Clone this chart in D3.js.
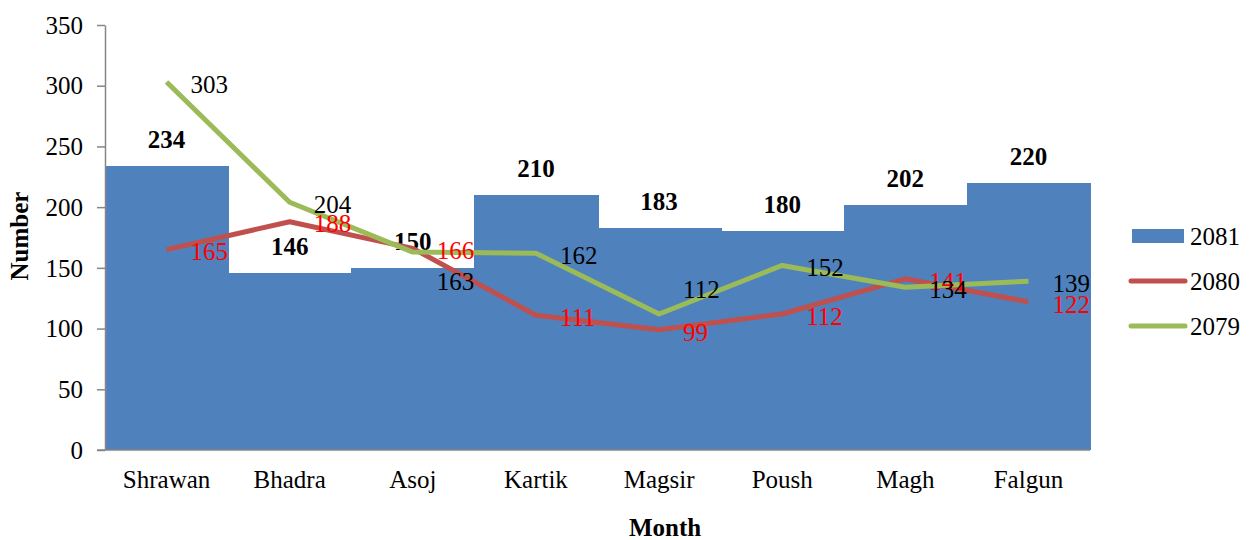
<!DOCTYPE html>
<html><head><meta charset="utf-8">
<script src="https://cdn.jsdelivr.net/npm/d3@7"></script>
<style>body{margin:0;background:#fff}svg{display:block}svg text{font-family:"Liberation Serif","Times New Roman",serif}</style>
</head><body><svg id="c" width="1256" height="540"></svg>
<script>
const months = ["Shrawan","Bhadra","Asoj","Kartik","Magsir","Poush","Magh","Falgun"];
const v2081 = [234,146,150,210,183,180,202,220];
const v2080 = [165,188,166,111,99,112,141,122];
const v2079 = [303,204,163,162,112,152,134,139];
const yTicks = [0,50,100,150,200,250,300,350];
const seriesNames = ["2081","2080","2079"];

const FF = "Liberation Serif, Times New Roman, serif";
const svg = d3.select("#c");
const L = 105, R = 1090, T = 25, B = 450;
const x = d3.scaleBand().domain(months).range([L,R]).padding(0);
const y = d3.scaleLinear().domain([0,350]).range([B,T]);
const blue = "#4F81BD", red = "#C0504D", green = "#9BBB59", axisC = "#868686";
const fs = 25;

// bars
svg.append("g").attr("shape-rendering","crispEdges").selectAll("rect").data(months).join("rect")
  .attr("x", d => x(d)).attr("width", x.bandwidth() + 1)
  .attr("y", (d,i) => y(v2081[i])).attr("height", (d,i) => B - y(v2081[i]))
  .attr("fill", blue);

// axes
const ya = svg.append("g").attr("transform", `translate(${L},0)`)
  .call(d3.axisLeft(y).tickValues(yTicks).tickSize(8).tickPadding(14).tickSizeOuter(0));
ya.attr("font-family", FF);
ya.select(".domain").attr("stroke", axisC).attr("stroke-width", 1.5);
ya.selectAll(".tick line").attr("stroke", axisC).attr("stroke-width", 1.5);
ya.selectAll(".tick text").attr("font-size", fs).attr("font-family", FF).attr("fill", "#000").attr("dy", "0.33em");

const xa = svg.append("g").attr("transform", `translate(0,${B})`)
  .call(d3.axisBottom(x).tickSize(0).tickPadding(20).tickSizeOuter(0));
xa.attr("font-family", FF);
xa.select(".domain").attr("stroke", axisC).attr("stroke-width", 1.5).attr("d", `M${L-8},0H${R}`);
xa.selectAll(".tick text").attr("font-size", fs).attr("font-family", FF).attr("fill", "#000").attr("dy", "0.72em");

// bar labels
svg.append("g").selectAll("text").data(months).join("text")
  .attr("x", d => x(d) + x.bandwidth()/2).attr("y", (d,i) => y(v2081[i]) - 18)
  .attr("text-anchor", "middle").attr("font-weight", "bold").attr("font-size", fs).attr("font-family", FF)
  .text((d,i) => v2081[i]);

// lines
const line = vals => d3.line().x((d,i) => x(months[i]) + x.bandwidth()/2).y(d => y(d))(vals);
svg.append("path").attr("d", line(v2080)).attr("fill","none").attr("stroke",red).attr("stroke-width",5).attr("stroke-linejoin","round");
svg.append("path").attr("d", line(v2079)).attr("fill","none").attr("stroke",green).attr("stroke-width",5).attr("stroke-linejoin","round");

// line labels
const greenShift = {"Asoj": 27, "Magsir": -27};
svg.append("g").selectAll("text").data(months).join("text")
  .attr("x", d => x(d) + x.bandwidth()/2 + 24).attr("y", (d,i) => y(v2080[i]) + 2)
  .attr("dy","0.35em").attr("font-size", fs).attr("font-family", FF).attr("fill", "#FF0000")
  .text((d,i) => v2080[i]);
svg.append("g").selectAll("text").data(months).join("text")
  .attr("x", d => x(d) + x.bandwidth()/2 + 24).attr("y", (d,i) => y(v2079[i]) + 2 + (greenShift[d]||0))
  .attr("dy","0.35em").attr("font-size", fs).attr("font-family", FF).attr("fill", "#000")
  .text((d,i) => v2079[i]);

// axis titles
svg.append("text").attr("x", 665).attr("y", 536).attr("text-anchor","middle").attr("font-family", FF)
  .attr("font-weight","bold").attr("font-size", fs).text("Month");
svg.append("text").attr("transform","translate(28,236) rotate(-90)").attr("text-anchor","middle").attr("font-family", FF)
  .attr("font-weight","bold").attr("font-size", fs).text("Number");

// legend
const lg = svg.append("g");
const ly = [236, 281, 326];
lg.append("rect").attr("x",1132).attr("y",ly[0]-7).attr("width",52).attr("height",14).attr("fill",blue);
lg.append("line").attr("x1",1131).attr("x2",1185).attr("y1",ly[1]).attr("y2",ly[1]).attr("stroke",red).attr("stroke-width",5).attr("stroke-linecap","round");
lg.append("line").attr("x1",1131).attr("x2",1185).attr("y1",ly[2]).attr("y2",ly[2]).attr("stroke",green).attr("stroke-width",5).attr("stroke-linecap","round");
lg.selectAll("text").data(seriesNames).join("text")
  .attr("x",1190).attr("y",(d,i)=>ly[i]).attr("dy","0.35em").attr("font-size",fs).attr("font-family", FF).text(d=>d);
</script></body></html>
